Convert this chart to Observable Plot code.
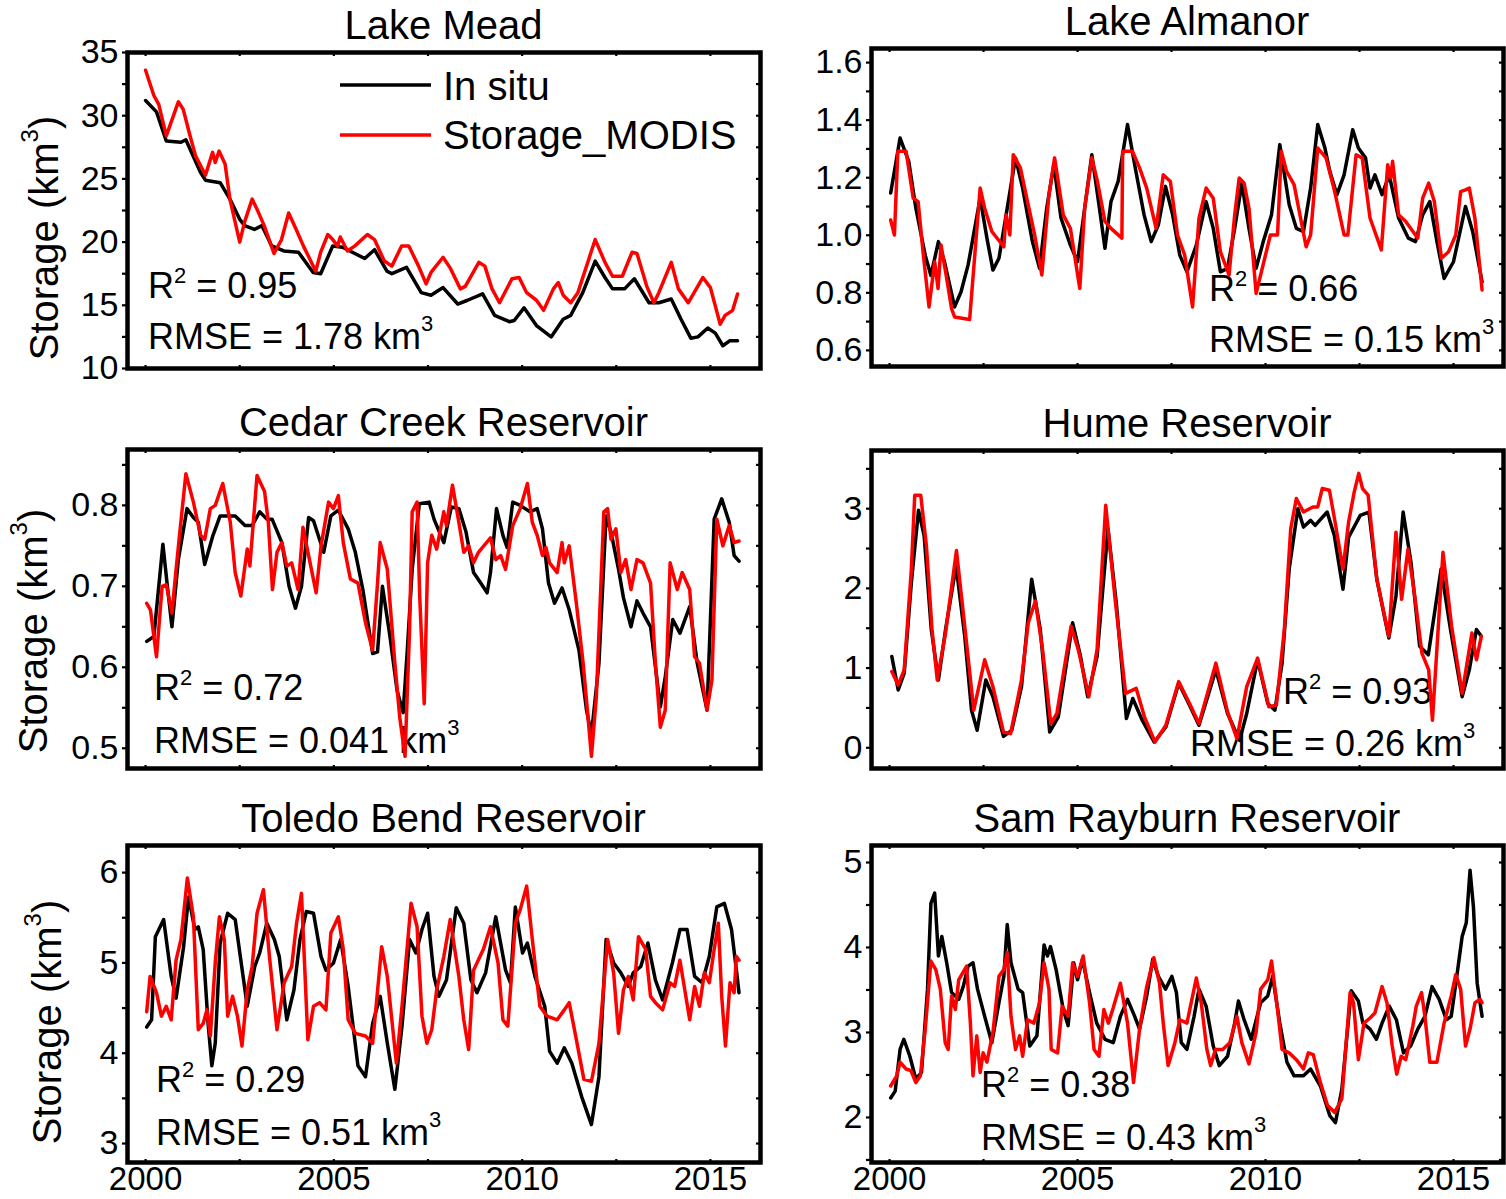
<!DOCTYPE html>
<html>
<head>
<meta charset="utf-8">
<script src="https://cdn.jsdelivr.net/npm/d3@7"></script>
<script src="https://cdn.jsdelivr.net/npm/@observablehq/plot@0.6"></script>
<style>
  body { margin: 0; background: #fff; }
  #fig { position: relative; width: 1506px; height: 1199px; background: #fff; overflow: hidden; }
  #fig svg { position: absolute; overflow: visible; }
</style>
</head>
<body>
<div id="fig"></div>
<script>
// ---------------- DATA (decimal year, storage km^3) ----------------
const yearTickLabels = [2000, 2005, 2010, 2015];

const meadInSitu = [[2000.0,31.2],[2000.29,30.3],[2000.55,28.0],[2000.94,27.9],[2001.07,28.1],[2001.46,25.5],[2001.59,24.9],[2001.98,24.7],[2002.24,23.4],[2002.5,21.8],[2002.63,21.3],[2002.89,21.0],[2003.09,21.3],[2003.35,19.7],[2003.67,19.3],[2004.06,19.2],[2004.45,17.6],[2004.65,17.5],[2004.97,19.7],[2005.23,19.6],[2005.49,19.2],[2005.82,18.7],[2006.08,19.4],[2006.41,17.7],[2006.54,17.5],[2006.93,18.0],[2007.32,16.0],[2007.58,15.8],[2007.9,16.4],[2008.29,15.1],[2008.55,15.4],[2008.95,15.9],[2009.27,14.2],[2009.66,13.7],[2009.79,13.8],[2010.05,14.8],[2010.38,13.4],[2010.77,12.5],[2011.09,13.9],[2011.29,14.2],[2011.61,16.0],[2011.94,18.5],[2012.2,17.2],[2012.4,16.3],[2012.72,16.3],[2012.98,17.1],[2013.37,15.2],[2013.63,15.2],[2013.96,15.5],[2014.22,13.9],[2014.48,12.4],[2014.67,12.5],[2014.93,13.2],[2015.13,12.8],[2015.33,11.8],[2015.52,12.2],[2015.72,12.2]];
const meadModis = [[2000.0,33.6],[2000.22,31.6],[2000.35,30.9],[2000.55,28.4],[2000.87,31.1],[2001.0,30.5],[2001.2,28.2],[2001.33,26.8],[2001.59,25.3],[2001.78,27.1],[2001.85,26.3],[2001.95,27.2],[2002.11,26.2],[2002.24,23.4],[2002.5,20.0],[2002.63,21.6],[2002.83,23.4],[2002.96,22.6],[2003.15,21.3],[2003.41,19.1],[2003.61,20.2],[2003.8,22.3],[2004.0,21.0],[2004.19,19.7],[2004.52,17.7],[2004.65,19.2],[2004.84,20.6],[2004.97,20.2],[2005.1,19.7],[2005.17,20.4],[2005.36,19.3],[2005.56,19.7],[2005.89,20.6],[2006.08,20.2],[2006.34,18.5],[2006.54,18.1],[2006.8,19.7],[2006.99,19.7],[2007.25,18.1],[2007.45,16.7],[2007.58,17.6],[2007.9,18.8],[2008.1,17.9],[2008.36,16.3],[2008.49,16.5],[2008.85,18.4],[2009.01,18.1],[2009.2,16.3],[2009.4,15.2],[2009.73,17.1],[2009.92,17.2],[2010.12,16.0],[2010.38,15.4],[2010.57,14.6],[2010.83,16.3],[2010.96,16.8],[2011.09,15.8],[2011.29,15.2],[2011.48,16.0],[2011.94,20.2],[2012.2,18.4],[2012.4,17.3],[2012.66,17.3],[2012.92,19.2],[2013.05,19.1],[2013.31,16.5],[2013.5,15.2],[2013.63,16.0],[2013.96,18.4],[2014.15,16.3],[2014.41,15.2],[2014.8,17.2],[2015.0,16.4],[2015.26,13.5],[2015.39,14.2],[2015.59,14.6],[2015.72,15.9]];

const almanorInSitu = [[2000.03,1.147],[2000.28,1.338],[2000.51,1.257],[2000.7,1.094],[2000.95,0.93],[2001.1,0.86],[2001.3,0.978],[2001.46,0.908],[2001.73,0.751],[2001.9,0.803],[2002.09,0.897],[2002.41,1.129],[2002.59,0.99],[2002.75,0.879],[2002.91,0.92],[2003.1,1.07],[2003.35,1.269],[2003.54,1.164],[2003.8,0.978],[2003.99,0.885],[2004.18,1.094],[2004.37,1.245],[2004.56,1.06],[2004.81,0.966],[2005.0,0.908],[2005.19,1.094],[2005.38,1.28],[2005.57,1.106],[2005.73,0.955],[2005.89,1.117],[2006.08,1.187],[2006.33,1.385],[2006.52,1.245],[2006.77,1.071],[2006.96,0.978],[2007.15,1.036],[2007.34,1.17],[2007.53,1.071],[2007.72,0.931],[2007.91,0.873],[2008.16,0.966],[2008.42,1.117],[2008.61,1.024],[2008.8,0.873],[2008.99,0.885],[2009.18,1.024],[2009.37,1.18],[2009.56,1.024],[2009.75,0.885],[2009.94,0.978],[2010.16,1.071],[2010.38,1.315],[2010.63,1.106],[2010.82,1.024],[2011.01,1.013],[2011.2,1.164],[2011.39,1.385],[2011.58,1.303],[2011.71,1.222],[2011.9,1.141],[2012.09,1.21],[2012.32,1.367],[2012.47,1.303],[2012.66,1.269],[2012.78,1.164],[2012.91,1.21],[2013.1,1.141],[2013.29,1.21],[2013.54,1.06],[2013.8,0.99],[2013.99,0.978],[2014.18,1.071],[2014.37,1.117],[2014.56,0.978],[2014.75,0.85],[2015.0,0.908],[2015.32,1.1],[2015.51,1.013],[2015.76,0.838]];
const almanorModis = [[2000.03,1.053],[2000.13,1.001],[2000.22,1.292],[2000.44,1.292],[2000.63,1.129],[2000.76,1.117],[2000.89,0.943],[2001.05,0.751],[2001.2,0.908],[2001.29,0.815],[2001.37,0.966],[2001.52,0.85],[2001.65,0.745],[2001.73,0.716],[2002.13,0.707],[2002.41,1.164],[2002.53,1.094],[2002.72,1.013],[2003.04,0.96],[2003.1,1.071],[2003.2,1.001],[2003.29,1.28],[2003.48,1.234],[2003.67,1.117],[2003.86,1.001],[2004.05,0.862],[2004.24,1.141],[2004.39,1.269],[2004.62,1.071],[2004.81,1.024],[2005.06,0.815],[2005.19,1.094],[2005.38,1.269],[2005.53,1.187],[2005.73,1.048],[2005.89,1.024],[2006.18,0.99],[2006.2,1.292],[2006.46,1.292],[2006.65,1.234],[2006.84,1.164],[2007.09,1.024],[2007.28,1.21],[2007.47,1.187],[2007.66,1.001],[2007.85,0.931],[2008.06,0.751],[2008.23,1.059],[2008.42,1.164],[2008.61,1.129],[2008.8,0.943],[2009.03,0.862],[2009.18,1.071],[2009.3,1.199],[2009.43,1.181],[2009.56,1.094],[2009.75,0.798],[2010.13,1.001],[2010.32,1.001],[2010.42,1.292],[2010.56,1.222],[2010.76,1.176],[2011.08,0.96],[2011.2,1.001],[2011.39,1.303],[2011.61,1.269],[2011.84,1.152],[2012.09,1.001],[2012.19,1.001],[2012.41,1.28],[2012.57,1.269],[2012.78,1.06],[2013.08,0.949],[2013.25,1.245],[2013.33,1.199],[2013.38,1.257],[2013.54,1.071],[2013.73,1.048],[2014.05,0.99],[2014.18,1.129],[2014.34,1.181],[2014.49,1.117],[2014.68,0.92],[2014.87,0.943],[2015.06,1.001],[2015.19,1.152],[2015.32,1.158],[2015.42,1.164],[2015.57,1.059],[2015.76,0.81]];

const cedarInSitu = [[2000.03,0.632],[2000.22,0.638],[2000.46,0.752],[2000.57,0.704],[2000.7,0.65],[2000.87,0.733],[2001.1,0.796],[2001.27,0.785],[2001.4,0.779],[2001.57,0.727],[2001.79,0.763],[2001.98,0.787],[2002.38,0.787],[2002.64,0.775],[2002.83,0.775],[2003.03,0.792],[2003.22,0.783],[2003.36,0.783],[2003.62,0.754],[2003.81,0.7],[2003.98,0.673],[2004.14,0.7],[2004.33,0.785],[2004.46,0.781],[2004.73,0.742],[2004.92,0.787],[2005.12,0.794],[2005.38,0.771],[2005.57,0.742],[2005.77,0.696],[2006.03,0.617],[2006.16,0.619],[2006.29,0.7],[2006.49,0.638],[2006.68,0.571],[2006.84,0.544],[2006.95,0.621],[2007.08,0.721],[2007.27,0.802],[2007.53,0.804],[2007.66,0.783],[2007.92,0.754],[2008.12,0.798],[2008.32,0.796],[2008.51,0.767],[2008.71,0.717],[2008.9,0.704],[2009.07,0.692],[2009.16,0.717],[2009.32,0.796],[2009.49,0.763],[2009.6,0.748],[2009.75,0.804],[2009.95,0.8],[2010.21,0.792],[2010.4,0.796],[2010.54,0.771],[2010.7,0.704],[2010.86,0.679],[2011.06,0.698],[2011.25,0.671],[2011.51,0.621],[2011.71,0.547],[2011.84,0.517],[2012.04,0.605],[2012.23,0.787],[2012.36,0.767],[2012.56,0.721],[2012.69,0.686],[2012.89,0.65],[2013.05,0.682],[2013.21,0.667],[2013.41,0.65],[2013.67,0.551],[2013.8,0.588],[2014.0,0.659],[2014.19,0.642],[2014.45,0.675],[2014.65,0.605],[2014.91,0.547],[2015.1,0.783],[2015.3,0.808],[2015.5,0.779],[2015.63,0.738],[2015.76,0.731]];
const cedarModis = [[2000.03,0.679],[2000.13,0.671],[2000.29,0.613],[2000.44,0.7],[2000.55,0.702],[2000.7,0.667],[2000.81,0.721],[2000.91,0.767],[2001.07,0.839],[2001.27,0.804],[2001.46,0.763],[2001.57,0.758],[2001.72,0.796],[2001.85,0.8],[2002.05,0.827],[2002.25,0.779],[2002.38,0.717],[2002.53,0.688],[2002.7,0.746],[2002.77,0.725],[2002.96,0.837],[2003.16,0.817],[2003.26,0.779],[2003.37,0.696],[2003.49,0.742],[2003.62,0.754],[2003.75,0.725],[2003.88,0.729],[2004.05,0.696],[2004.18,0.773],[2004.33,0.738],[2004.53,0.692],[2004.66,0.75],[2004.86,0.804],[2004.99,0.796],[2005.12,0.812],[2005.25,0.754],[2005.44,0.709],[2005.64,0.704],[2005.84,0.655],[2006.03,0.621],[2006.16,0.704],[2006.23,0.754],[2006.42,0.721],[2006.62,0.605],[2006.75,0.538],[2006.89,0.49],[2007.01,0.646],[2007.08,0.792],[2007.21,0.804],[2007.28,0.688],[2007.4,0.555],[2007.49,0.729],[2007.6,0.763],[2007.73,0.746],[2007.92,0.792],[2007.99,0.775],[2008.15,0.825],[2008.32,0.779],[2008.45,0.742],[2008.58,0.75],[2008.71,0.729],[2008.84,0.742],[2009.16,0.76],[2009.3,0.733],[2009.43,0.738],[2009.56,0.721],[2009.75,0.775],[2009.95,0.796],[2010.14,0.827],[2010.27,0.779],[2010.4,0.763],[2010.54,0.738],[2010.63,0.748],[2010.73,0.729],[2010.93,0.717],[2011.06,0.754],[2011.12,0.729],[2011.25,0.75],[2011.44,0.679],[2011.62,0.605],[2011.75,0.538],[2011.84,0.49],[2011.97,0.563],[2012.17,0.792],[2012.27,0.796],[2012.36,0.758],[2012.49,0.771],[2012.62,0.717],[2012.75,0.733],[2012.89,0.696],[2013.05,0.733],[2013.21,0.729],[2013.41,0.704],[2013.54,0.605],[2013.67,0.526],[2013.8,0.547],[2013.93,0.729],[2014.12,0.696],[2014.25,0.717],[2014.45,0.696],[2014.58,0.613],[2014.71,0.605],[2014.91,0.547],[2015.04,0.584],[2015.17,0.783],[2015.33,0.75],[2015.5,0.775],[2015.63,0.754],[2015.76,0.756]];

const humeInSitu = [[2000.06,1.146],[2000.23,0.725],[2000.39,0.936],[2000.58,2.073],[2000.77,2.979],[2000.92,2.663],[2001.11,1.483],[2001.3,0.851],[2001.49,1.483],[2001.77,2.284],[2002.0,1.399],[2002.18,0.472],[2002.33,0.219],[2002.56,0.851],[2002.75,0.641],[2003.03,0.143],[2003.25,0.219],[2003.51,0.767],[2003.78,2.116],[2004.01,1.483],[2004.26,0.198],[2004.49,0.388],[2004.87,1.568],[2005.08,1.146],[2005.27,0.641],[2005.52,1.146],[2005.81,2.748],[2006.03,1.82],[2006.3,0.367],[2006.47,0.619],[2006.72,0.346],[2007.04,0.072],[2007.35,0.261],[2007.69,0.809],[2007.98,0.535],[2008.23,0.282],[2008.68,0.978],[2008.99,0.43],[2009.31,0.093],[2009.5,0.43],[2009.79,1.104],[2010.06,0.556],[2010.25,0.472],[2010.44,1.062],[2010.63,2.242],[2010.86,3.0],[2011.01,2.769],[2011.2,2.853],[2011.32,2.79],[2011.64,2.958],[2011.83,2.663],[2012.06,1.989],[2012.21,2.642],[2012.52,2.916],[2012.75,2.958],[2012.96,2.116],[2013.28,1.378],[2013.47,1.905],[2013.66,2.958],[2013.87,2.326],[2014.1,1.273],[2014.33,1.167],[2014.67,2.242],[2014.92,1.483],[2015.23,0.641],[2015.42,0.978],[2015.61,1.483],[2015.74,1.399]];
const humeModis = [[2000.06,0.957],[2000.23,0.788],[2000.39,0.978],[2000.58,2.242],[2000.67,3.169],[2000.83,3.169],[2000.98,2.537],[2001.13,1.483],[2001.27,0.851],[2001.49,1.441],[2001.78,2.474],[2001.99,1.568],[2002.24,0.472],[2002.53,1.104],[2002.75,0.767],[2003.03,0.198],[2003.22,0.177],[2003.51,0.851],[2003.69,1.568],[2003.88,1.842],[2004.07,1.231],[2004.29,0.303],[2004.45,0.43],[2004.83,1.526],[2005.02,1.231],[2005.3,0.641],[2005.52,1.231],[2005.75,3.043],[2006.0,1.863],[2006.28,0.683],[2006.56,0.746],[2006.78,0.388],[2007.06,0.072],[2007.35,0.282],[2007.69,0.83],[2007.98,0.556],[2008.23,0.303],[2008.68,1.062],[2008.99,0.451],[2009.24,0.114],[2009.5,0.767],[2009.79,1.125],[2010.09,0.514],[2010.29,0.535],[2010.5,1.483],[2010.67,2.748],[2010.82,3.127],[2011.01,2.958],[2011.26,3.022],[2011.39,3.022],[2011.51,3.253],[2011.7,3.232],[2011.85,2.832],[2012.06,2.242],[2012.21,2.832],[2012.36,3.211],[2012.48,3.443],[2012.58,3.253],[2012.73,3.169],[2012.96,2.116],[2013.28,1.399],[2013.47,2.705],[2013.62,1.863],[2013.79,2.495],[2013.97,1.905],[2014.16,1.188],[2014.34,0.978],[2014.44,0.346],[2014.72,2.453],[2014.95,1.526],[2015.23,0.683],[2015.49,1.441],[2015.61,1.104],[2015.74,1.399]];

const toledoInSitu = [[2000.03,4.29],[2000.16,4.37],[2000.26,5.29],[2000.48,5.48],[2000.68,4.85],[2000.81,4.61],[2001.01,5.18],[2001.14,5.73],[2001.31,5.37],[2001.4,5.4],[2001.53,5.15],[2001.66,4.33],[2001.76,3.86],[2001.85,4.11],[2001.98,5.22],[2002.18,5.55],[2002.38,5.48],[2002.53,5.03],[2002.7,4.52],[2002.9,4.96],[2003.03,5.11],[2003.22,5.44],[2003.42,5.26],[2003.55,5.07],[2003.75,4.37],[2003.94,4.7],[2004.1,5.26],[2004.27,5.57],[2004.46,5.55],[2004.66,5.07],[2004.79,4.92],[2004.99,5.0],[2005.18,5.26],[2005.38,4.74],[2005.64,3.86],[2005.84,3.74],[2006.03,4.33],[2006.23,4.63],[2006.42,4.11],[2006.62,3.6],[2006.81,4.3],[2007.01,5.26],[2007.18,5.11],[2007.34,5.37],[2007.49,5.55],[2007.66,4.85],[2007.79,4.63],[2007.99,4.81],[2008.25,5.61],[2008.45,5.44],[2008.64,4.81],[2008.8,4.67],[2009.03,4.89],[2009.3,5.51],[2009.56,4.92],[2009.69,4.78],[2009.82,5.62],[2010.01,5.11],[2010.14,5.22],[2010.34,4.85],[2010.6,4.52],[2010.73,4.02],[2010.93,3.89],[2011.12,4.06],[2011.32,3.89],[2011.58,3.52],[2011.84,3.21],[2012.04,3.74],[2012.23,5.26],[2012.43,5.0],[2012.62,4.89],[2012.82,4.74],[2012.95,4.89],[2013.15,4.96],[2013.34,5.22],[2013.54,4.81],[2013.73,4.59],[2013.99,5.0],[2014.19,5.37],[2014.38,5.37],[2014.58,4.85],[2014.78,4.78],[2014.97,5.07],[2015.17,5.62],[2015.37,5.66],[2015.56,5.37],[2015.69,4.92],[2015.76,4.67]];
const toledoModis = [[2000.03,4.46],[2000.12,4.85],[2000.29,4.67],[2000.42,4.41],[2000.55,4.52],[2000.68,4.37],[2000.81,5.03],[2000.94,5.26],[2001.11,5.94],[2001.27,5.51],[2001.4,4.26],[2001.53,4.33],[2001.63,4.48],[2001.72,4.19],[2001.85,5.0],[2001.96,5.51],[2002.09,5.26],[2002.18,4.41],[2002.31,4.63],[2002.44,4.41],[2002.56,4.08],[2002.7,4.7],[2002.83,4.96],[2002.96,5.55],[2003.13,5.81],[2003.29,5.07],[2003.49,4.26],[2003.68,4.78],[2003.88,4.96],[2004.01,5.44],[2004.14,5.77],[2004.31,4.15],[2004.46,4.52],[2004.62,4.56],[2004.79,4.48],[2004.92,5.33],[2005.12,5.51],[2005.25,5.15],[2005.38,4.37],[2005.57,4.22],[2005.84,4.19],[2006.03,4.11],[2006.27,5.18],[2006.42,4.85],[2006.55,4.33],[2006.66,3.89],[2006.81,4.52],[2007.05,5.66],[2007.21,5.4],[2007.34,4.41],[2007.47,4.11],[2007.6,4.26],[2007.73,4.7],[2007.92,5.07],[2008.09,5.48],[2008.32,4.85],[2008.45,4.37],[2008.58,4.04],[2008.71,4.92],[2008.97,5.15],[2009.16,5.4],[2009.36,5.0],[2009.49,4.37],[2009.62,4.3],[2009.82,5.44],[2009.95,5.59],[2010.12,5.85],[2010.27,5.26],[2010.47,4.52],[2010.66,4.41],[2010.93,4.37],[2011.12,4.48],[2011.25,4.56],[2011.44,4.15],[2011.64,3.71],[2011.84,3.69],[2012.04,4.11],[2012.27,5.26],[2012.43,4.89],[2012.56,4.22],[2012.69,4.7],[2012.82,4.85],[2012.95,4.59],[2013.09,5.29],[2013.28,5.15],[2013.41,4.63],[2013.54,4.56],[2013.73,4.48],[2013.93,4.78],[2014.05,4.74],[2014.19,5.03],[2014.32,4.7],[2014.45,4.37],[2014.58,4.74],[2014.71,4.52],[2014.84,4.89],[2014.97,4.78],[2015.1,5.15],[2015.21,5.44],[2015.3,4.63],[2015.4,4.08],[2015.52,4.78],[2015.63,4.67],[2015.69,5.07],[2015.76,5.03]];

const samInSitu = [[2000.03,2.23],[2000.15,2.31],[2000.28,2.8],[2000.38,2.92],[2000.54,2.72],[2000.7,2.45],[2000.85,2.53],[2001.01,3.51],[2001.1,4.52],[2001.2,4.64],[2001.3,3.9],[2001.39,4.13],[2001.52,3.82],[2001.65,3.47],[2001.84,3.39],[2001.96,3.54],[2002.09,3.78],[2002.22,3.82],[2002.34,3.51],[2002.53,3.19],[2002.72,2.88],[2002.91,3.35],[2003.04,3.66],[2003.13,4.27],[2003.23,3.82],[2003.42,3.51],[2003.54,3.47],[2003.73,2.84],[2003.92,2.96],[2004.11,4.03],[2004.2,3.9],[2004.28,4.01],[2004.43,3.74],[2004.62,3.27],[2004.75,3.08],[2004.9,3.82],[2005.0,3.62],[2005.13,3.86],[2005.32,3.47],[2005.51,3.11],[2005.73,2.92],[2005.95,2.88],[2006.14,3.19],[2006.33,3.39],[2006.52,3.19],[2006.65,3.04],[2006.84,3.43],[2007.0,3.86],[2007.15,3.66],[2007.34,3.51],[2007.51,3.66],[2007.63,3.47],[2007.76,2.88],[2007.91,2.8],[2008.1,3.19],[2008.23,3.51],[2008.42,3.31],[2008.61,2.84],[2008.77,2.61],[2008.99,2.72],[2009.18,3.11],[2009.28,3.37],[2009.43,3.15],[2009.62,2.92],[2009.87,3.35],[2010.06,3.43],[2010.19,3.66],[2010.38,3.11],[2010.57,2.65],[2010.76,2.49],[2011.01,2.49],[2011.2,2.57],[2011.46,2.37],[2011.71,2.02],[2011.86,1.94],[2012.03,2.33],[2012.28,3.49],[2012.47,3.37],[2012.59,3.11],[2012.78,3.04],[2012.95,2.92],[2013.1,3.11],[2013.29,3.31],[2013.48,3.15],[2013.67,2.76],[2013.86,2.84],[2014.05,3.04],[2014.24,3.19],[2014.43,3.54],[2014.62,3.39],[2014.81,3.15],[2014.94,3.19],[2015.1,3.7],[2015.23,4.13],[2015.34,4.29],[2015.44,4.91],[2015.53,4.48],[2015.63,3.58],[2015.76,3.19]];
const samModis = [[2000.03,2.37],[2000.19,2.49],[2000.28,2.65],[2000.44,2.57],[2000.57,2.55],[2000.7,2.41],[2000.82,2.49],[2000.95,3.04],[2001.1,3.84],[2001.23,3.74],[2001.35,3.51],[2001.48,2.88],[2001.56,2.8],[2001.65,3.43],[2001.75,3.27],[2001.84,3.62],[2002.05,3.78],[2002.15,3.11],[2002.22,2.49],[2002.32,2.96],[2002.41,2.53],[2002.49,2.76],[2002.59,2.65],[2002.75,3.0],[2002.91,3.66],[2003.04,3.74],[2003.13,3.94],[2003.23,3.19],[2003.35,2.8],[2003.46,2.96],[2003.54,2.72],[2003.67,3.15],[2003.84,3.11],[2003.99,3.35],[2004.11,3.82],[2004.24,3.51],[2004.3,2.8],[2004.47,2.76],[2004.59,3.31],[2004.75,3.19],[2004.87,3.82],[2005.0,3.66],[2005.15,3.9],[2005.32,3.35],[2005.44,2.8],[2005.57,2.72],[2005.7,3.27],[2005.82,3.11],[2005.95,3.29],[2006.14,3.58],[2006.33,3.11],[2006.49,2.41],[2006.65,3.04],[2006.84,3.54],[2007.03,3.88],[2007.18,3.58],[2007.28,3.11],[2007.41,2.61],[2007.59,2.88],[2007.72,3.15],[2007.91,3.11],[2008.16,3.64],[2008.29,3.35],[2008.44,2.8],[2008.54,2.61],[2008.67,2.8],[2008.86,2.8],[2009.05,2.88],[2009.24,3.19],[2009.37,2.88],[2009.56,2.63],[2009.75,3.0],[2009.87,3.51],[2010.06,3.62],[2010.16,3.84],[2010.32,3.27],[2010.44,2.8],[2010.63,2.76],[2010.82,2.68],[2011.01,2.57],[2011.14,2.76],[2011.27,2.74],[2011.46,2.41],[2011.65,2.14],[2011.84,2.06],[2012.03,2.22],[2012.25,3.47],[2012.34,3.35],[2012.47,2.68],[2012.62,3.11],[2012.78,3.17],[2012.91,3.23],[2013.1,3.54],[2013.23,3.35],[2013.37,2.84],[2013.49,2.51],[2013.61,2.72],[2013.73,2.68],[2013.92,3.08],[2014.01,3.31],[2014.15,3.47],[2014.24,3.19],[2014.37,2.65],[2014.56,2.65],[2014.75,3.11],[2014.94,3.43],[2015.06,3.68],[2015.19,3.51],[2015.32,2.84],[2015.44,3.04],[2015.57,3.35],[2015.71,3.39],[2015.76,3.35]];

const meadYTicks = [10, 15, 20, 25, 30, 35];
const almanorYTicks = [0.6, 0.8, 1.0, 1.2, 1.4, 1.6];
const cedarYTicks = [0.5, 0.6, 0.7, 0.8];
const humeYTicks = [0, 1, 2, 3];
const toledoYTicks = [3, 4, 5, 6];
const samYTicks = [2, 3, 4, 5];

// ---------------- LAYOUT ----------------
const FONT = '"Liberation Sans", Arial, Helvetica, sans-serif';
const X_DOMAIN = [1999.52, 2016.33];
const M = {l: 140, r: 14, t: 70, b: 52};

const panels = [
  {title: "Lake Mead", inSitu: meadInSitu, modis: meadModis, yTicks: meadYTicks, yDomain: [10, 35], minorStep: 2.5,
   fmt: d => String(d), frame: {l: 127, r: 760, t: 52, b: 368}, ylabel: {x: 58, y: 238}, legend: true,
   r2: {v: "0.95", x: 148, y: 298}, rmse: {v: "1.78", x: 148, y: 349}, bottom: false},
  {title: "Lake Almanor", inSitu: almanorInSitu, modis: almanorModis, yTicks: almanorYTicks, yDomain: [0.544, 1.649], minorStep: 0.1,
   fmt: d3.format(".1f"), frame: {l: 871, r: 1503, t: 48, b: 366}, ylabel: null,
   r2: {v: "0.66", x: 1209, y: 301}, rmse: {v: "0.15", x: 1209, y: 352}, bottom: false},
  {title: "Cedar Creek Reservoir", inSitu: cedarInSitu, modis: cedarModis, yTicks: cedarYTicks, yDomain: [0.475, 0.869], minorStep: 0.05,
   fmt: d3.format(".1f"), frame: {l: 127, r: 760, t: 449, b: 768}, ylabel: {x: 47, y: 631},
   r2: {v: "0.72", x: 154, y: 700}, rmse: {v: "0.041", x: 154, y: 753}, bottom: false},
  {title: "Hume Reservoir", inSitu: humeInSitu, modis: humeModis, yTicks: humeYTicks, yDomain: [-0.26, 3.73], minorStep: 0.5,
   fmt: d => String(d), frame: {l: 871, r: 1503, t: 450, b: 768}, ylabel: null,
   r2: {v: "0.93", x: 1283, y: 704}, rmse: {v: "0.26", x: 1190, y: 756}, bottom: false},
  {title: "Toledo Bend Reservoir", inSitu: toledoInSitu, modis: toledoModis, yTicks: toledoYTicks, yDomain: [2.79, 6.3], minorStep: 0.5,
   fmt: d => String(d), frame: {l: 127, r: 760, t: 845, b: 1162}, ylabel: {x: 61, y: 1022},
   r2: {v: "0.29", x: 156, y: 1092}, rmse: {v: "0.51", x: 156, y: 1145}, bottom: true},
  {title: "Sam Rayburn Reservoir", inSitu: samInSitu, modis: samModis, yTicks: samYTicks, yDomain: [1.47, 5.2], minorStep: 0.5,
   fmt: d => String(d), frame: {l: 871, r: 1503, t: 845, b: 1162}, ylabel: null,
   r2: {v: "0.38", x: 981, y: 1097}, rmse: {v: "0.43", x: 981, y: 1150}, bottom: true}
];

const fig = document.getElementById("fig");

function richText(sel, x, y, parts, fs, attrs = {}) {
  const t = sel.append("text").attr("x", x).attr("y", y)
    .attr("font-family", FONT).attr("font-size", fs).attr("fill", "black").attr("text-anchor", "start");
  for (const k in attrs) t.attr(k, attrs[k]);
  let raised = 0;
  for (const [s, sup] of parts) {
    const sp = t.append("tspan").text(s);
    if (sup) {
      const up = Math.round(fs * sup);
      sp.attr("font-size", Math.round(fs * 0.6)).attr("dy", -up + raised);
      raised = up;
    } else {
      sp.attr("font-size", fs);
      if (raised) { sp.attr("dy", raised); raised = 0; }
    }
  }
  return t;
}

for (const p of panels) {
  const W = p.frame.r - p.frame.l, H = p.frame.b - p.frame.t;
  const ox = p.frame.l - M.l, oy = p.frame.t - M.t;
  const step = p.minorStep;
  const yMinor = d3.range(Math.ceil(p.yDomain[0] / step - 1e-6), Math.floor(p.yDomain[1] / step + 1e-6) + 1).map(i => +(i * step).toFixed(4));
  const xMinor = d3.range(0, 7).map(i => 2000 + i * 2.5);

  const marks = [
    Plot.axisY(yMinor, {anchor: "left", tickSize: 5, strokeWidth: 2.2, fill: "none", label: null}),
    Plot.axisY(yMinor, {anchor: "left", frameAnchor: "right", tickSize: 4, strokeWidth: 2.2, fill: "none", label: null}),
    Plot.axisX(xMinor, {anchor: "top", frameAnchor: "bottom", tickSize: 4, strokeWidth: 2.2, fill: "none", label: null}),
    Plot.axisX(xMinor, {anchor: "bottom", frameAnchor: "top", tickSize: 4, strokeWidth: 2.2, fill: "none", label: null}),
    Plot.axisY(p.yTicks, {anchor: "left", tickSize: 0, tickPadding: 9, tickFormat: p.fmt, fontSize: 34, fill: "black", stroke: "none", label: null}),
  ];
  if (p.bottom) {
    marks.push(Plot.axisX(yearTickLabels, {anchor: "bottom", tickSize: 0, tickPadding: 4, tickFormat: d => String(d), fontSize: 33, fill: "black", stroke: "none", label: null}));
  }
  marks.push(
    Plot.line(p.inSitu, {x: d => d[0], y: d => d[1], stroke: "black", strokeWidth: 3.5, strokeLinejoin: "round"}),
    Plot.line(p.modis, {x: d => d[0], y: d => d[1], stroke: "#ff0000", strokeWidth: 3.5, strokeLinejoin: "round"}),
    Plot.frame({stroke: "black", strokeWidth: 4.5})
  );

  const svgEl = Plot.plot({
    width: W + M.l + M.r, height: H + M.t + M.b,
    marginLeft: M.l, marginRight: M.r, marginTop: M.t, marginBottom: M.b,
    x: {domain: X_DOMAIN},
    y: {domain: p.yDomain},
    style: {fontFamily: FONT, fontSize: "34px", color: "black", background: "transparent", overflow: "visible"},
    marks
  });
  svgEl.style.left = ox + "px";
  svgEl.style.top = oy + "px";
  fig.appendChild(svgEl);

  const svg = d3.select(svgEl);
  // title
  svg.append("text").attr("x", M.l + W / 2).attr("y", M.t - 13)
    .attr("text-anchor", "middle").attr("font-family", FONT).attr("font-size", 40).attr("fill", "black").text(p.title);

  // statistics annotations (drawn under the lines)
  const ann = svg.insert("g", "g[aria-label='line']");
  richText(ann, p.r2.x - ox, p.r2.y - oy, [["R", false], ["2", 0.42], [" = " + p.r2.v, false]], 36);
  richText(ann, p.rmse.x - ox, p.rmse.y - oy, [["RMSE = " + p.rmse.v + " km", false], ["3", 0.5]], 36);

  // y label
  if (p.ylabel) {
    const lx = p.ylabel.x - ox, ly = p.ylabel.y - oy;
    richText(svg, 0, 0, [["Storage (km", false], ["3", 0.5], [")", false]], 40,
      {"text-anchor": "middle", transform: `translate(${lx},${ly}) rotate(-90)`});
  }

  // legend
  if (p.legend) {
    const lg = svg.append("g");
    const items = [["In situ", "black", 85, 100], ["Storage_MODIS", "#ff0000", 135, 149]];
    for (const [label, color, ly, by] of items) {
      lg.append("line").attr("x1", 340 - ox).attr("x2", 431 - ox).attr("y1", ly - oy).attr("y2", ly - oy)
        .attr("stroke", color).attr("stroke-width", 3.5);
      lg.append("text").attr("x", 443 - ox).attr("y", by - oy).attr("font-family", FONT)
        .attr("text-anchor", "start").attr("font-size", 40).attr("fill", "black").text(label);
    }
  }
}
</script>
</body>
</html>
